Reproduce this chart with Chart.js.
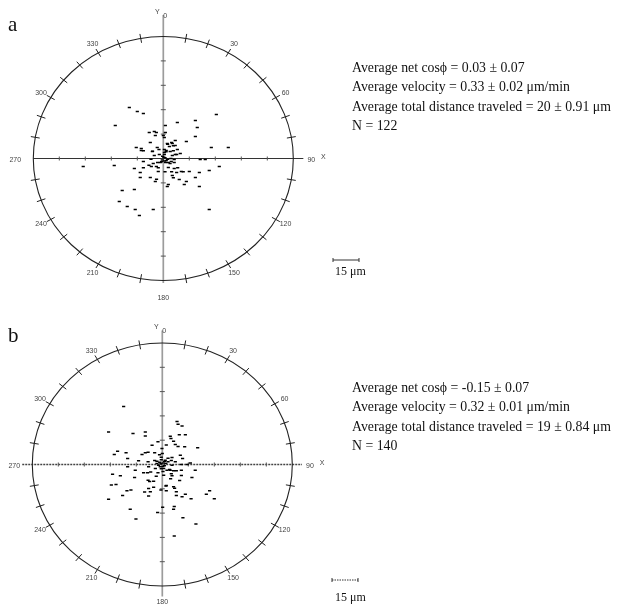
<!DOCTYPE html>
<html>
<head>
<meta charset="utf-8">
<script src="https://cdn.jsdelivr.net/npm/chart.js@4/dist/chart.umd.min.js"></script>
<style>
  body { margin: 0; width: 622px; height: 609px; background: #fff; overflow: hidden; position: relative; font-family: "Liberation Serif", "Times New Roman", serif; color: #111; }
  canvas { position: absolute; left: 0; }
  .t { position: absolute; white-space: nowrap; }
  .panel { font-size: 21px; line-height: 24px; }
  .stats { font-size: 13.8px; line-height: 19.3px; }
  .bar { font-size: 12px; line-height: 14px; }
</style>
</head>
<body>
<canvas id="plotA" width="622" height="305" style="top:0"></canvas>
<canvas id="plotB" width="622" height="304" style="top:305px"></canvas>

<div class="t panel" style="left:8px;top:12px">a</div>
<div class="t panel" style="left:8px;top:323px">b</div>

<div class="t stats" style="left:352px;top:58px">
  Average net cosϕ = 0.03 ± 0.07<br>
  Average velocity = 0.33 ± 0.02 μm/min<br>
  Average total distance traveled = 20 ± 0.91 μm<br>
  N = 122
</div>
<div class="t stats" style="left:352px;top:378px">
  Average net cosϕ = -0.15 ± 0.07<br>
  Average velocity = 0.32 ± 0.01 μm/min<br>
  Average total distance traveled = 19 ± 0.84 μm<br>
  N = 140
</div>
<div class="t bar" style="left:335px;top:264px">15 μm</div>
<div class="t bar" style="left:335px;top:590px">15 μm</div>

<script>
// Cell end points (µm) relative to the starting point, panel a
const cellsAx = [-19.6,-15.0,-11.5,-27.7,8.1,18.5,30.6,19.6,18.5,1.2,-8.1,-4.0,1.2,-4.6,0.0,6.9,13.3,-7.5,2.3,5.2,
  6.9,3.5,-3.5,8.1,-12.7,-15.6,-12.7,1.7,4.0,-6.3,0.6,9.8,6.9,-2.3,5.2,-5.2,27.7,37.5,1.7,4.6,
  -1.7,2.9,-5.8,-11.5,-28.3,-16.7,-13.3,-6.9,-4.0,2.9,6.3,10.4,15.0,20.8,26.5,32.3,5.2,-2.9,-13.3,-7.5,
  -4.6,9.2,13.3,18.5,20.8,12.1,2.3,-23.7,-16.7,-25.4,-20.8,-16.2,-5.8,-13.8,26.5,-46.2,21.3,24.2,
  -5.2,0.6,4.8,2.5,5.8,-11.5,-6.2,-2.5,0.6,1.6,5.8,7.7,0.6,-0.4,-7.1,2.5,4.4,6.3,-1.0,-3.3,
  -8.3,1.3,3.9,6.3,-11.5,-2.9,8.3,1.0,4.8,7.7,11.5,-3.9,5.8,2.9,0.3,1.0,-0.6,0.8];
const cellsAy = [31.4,28.9,27.7,20.3,22.1,23.4,27.1,19.1,13.5,20.3,16.0,16.0,16.0,14.1,14.1,11.1,10.5,9.8,9.2,9.2,
  8.0,7.4,6.8,5.5,6.1,6.8,4.9,4.9,4.3,4.3,3.7,3.1,2.5,2.5,1.8,1.8,6.8,6.8,-1.2,-1.8,
  -2.5,-2.5,-3.1,-1.8,-4.3,-6.1,-8.6,-4.9,-4.9,-5.5,-6.1,-8.0,-8.0,-8.6,-7.4,-4.9,-10.5,-8.0,-11.7,-11.7,
  -14.1,-12.9,-14.1,-11.7,-17.2,-16.0,-17.2,-19.7,-19.1,-26.4,-29.5,-31.4,-31.4,-35.0,-31.4,-4.9,-0.6,-0.6,
  16.6,12.9,9.8,8.8,7.8,4.7,4.5,5.5,5.5,4.1,4.7,2.5,2.5,1.4,-0.4,-0.4,0.0,-0.6,-2.0,-2.5,
  -4.1,-2.5,-3.1,-2.5,-5.7,-5.7,-5.7,-8.2,-8.2,-8.6,-8.2,-12.7,-11.9,-16.0,0.8,0.5,-0.9,-1.5];

// Cell end points (µm), panel b
const cellsBx = [-22.3,-31.0,-16.9,-9.8,-9.8,8.5,9.1,11.4,4.6,5.0,9.8,13.3,6.5,7.5,12.9,20.4,-5.9,-2.5,-0.2,0.0,
  -4.4,-9.8,-11.7,-20.9,-25.8,-27.7,-20.0,-13.7,-8.2,-3.1,-3.1,1.7,3.3,5.6,7.5,10.4,11.7,16.2,11.0,5.6,
  -1.2,0.8,2.7,-4.0,-7.9,-15.6,-20.0,-28.7,-24.2,-16.0,-10.8,-8.5,-2.5,0.8,4.6,6.5,8.1,11.0,19.0,11.0,
  5.6,17.1,-8.2,-5.0,10.0,-29.4,-26.7,-20.4,-18.1,-7.9,-5.0,-6.9,-0.8,2.1,2.3,8.1,8.1,11.4,13.3,16.6,
  27.3,25.4,30.0,-22.9,-31.0,-7.9,-18.5,-15.2,-2.7,0.2,6.9,6.5,11.9,19.4,6.9,6.5,
  2.3,9.1,-8.2,-1.6,-0.6,3.3,-4.4,1.3,5.2,14.4,-0.6,0.4,4.2,-6.7,5.2,-3.5,4.8,-7.3,2.3,7.1,-10.2,
  0.5,-0.8,1.2,-1.5,2.0,-2.2,0.3,-0.6];
const cellsBy = [35.8,20.1,19.1,20.1,17.6,26.6,24.8,23.8,17.4,16.0,18.4,18.4,14.3,12.3,10.9,10.3,11.9,14.0,9.8,6.8,
  7.2,7.2,6.1,7.2,8.2,6.1,3.7,2.3,1.7,2.0,0.6,2.6,1.7,4.3,1.7,5.7,3.7,1.0,0.0,-0.4,
  -1.4,-2.5,-3.5,-2.5,-1.4,-3.5,-1.4,-6.0,-6.9,-8.0,-5.1,-5.1,-5.1,-6.6,-3.5,-3.9,-3.9,-3.5,-3.5,-6.8,
  -6.9,-8.0,-9.7,-10.3,-9.8,-12.7,-12.3,-16.2,-15.8,-14.8,-14.1,-16.8,-15.8,-13.3,-16.2,-16.8,-19.2,-19.9,-18.4,-21.1,
  -16.2,-18.3,-21.1,-19.2,-21.5,-19.5,-27.7,-33.6,-29.7,-26.4,-26.0,-27.7,-32.8,-36.7,-44.1,-13.7,
  12.1,11.1,7.6,6.0,4.5,3.9,2.5,1.8,2.5,0.0,-2.6,-4.3,-3.1,-4.7,-5.7,-7.2,-8.8,-10.5,-12.9,-14.6,-17.0,
  1.0,0.4,-0.8,1.4,0.6,-0.5,-1.2,2.9];

// Axis layout (µm): ring radius, crosshair tick spacing, labelled bearings
const ringRadius = 75;
const axisTicks = [-60, -45, -30, -15, 15, 30, 45, 60];
const bearingLabels = [30, 60, 120, 150, 210, 240, 300, 330];
const scaleBarLength = 15;

const polarFrame = {
  id: 'polarFrame',
  beforeDatasetsDraw(chart, args, o) {
    const { ctx } = chart;
    const xs = chart.scales.x, ys = chart.scales.y;
    const px = v => xs.getPixelForValue(v);
    const py = v => ys.getPixelForValue(v);
    const cx = px(0), cy = py(0);
    const seg = (x1, y1, x2, y2) => { ctx.beginPath(); ctx.moveTo(x1, y1); ctx.lineTo(x2, y2); ctx.stroke(); };
    ctx.save();

    // vertical (Y) axis
    ctx.strokeStyle = '#9c9c9c';
    ctx.lineWidth = 1.7;
    seg(cx, py(o.yTop), cx, py(-o.yBottom));
    // horizontal (X) axis
    ctx.strokeStyle = o.hColor;
    ctx.lineWidth = o.hWidth;
    ctx.setLineDash(o.hDash);
    seg(px(-o.xLeft), cy, px(o.xRight), cy);
    ctx.setLineDash([]);

    // crosshair ticks
    ctx.strokeStyle = '#555';
    ctx.lineWidth = 1;
    axisTicks.forEach(t => {
      seg(px(t), cy - 2, px(t), cy + 2);
      seg(cx - 2.5, py(t), cx + 2.5, py(t));
    });

    // ring
    const rx = px(ringRadius) - cx, ry = cy - py(ringRadius);
    ctx.strokeStyle = '#222';
    ctx.lineWidth = 1.1;
    ctx.beginPath();
    ctx.ellipse(cx, cy, rx, ry, 0, 0, Math.PI * 2);
    ctx.stroke();

    // bearing ticks every 10°
    ctx.lineWidth = 1;
    for (let d = 10; d < 360; d += 10) {
      if (d % 90 === 0) continue;
      const a = d * Math.PI / 180;
      const x0 = px(ringRadius * Math.sin(a)), y0 = py(ringRadius * Math.cos(a));
      let ux = x0 - cx, uy = y0 - cy;
      const n = Math.hypot(ux, uy); ux /= n; uy /= n;
      seg(x0 - ux * 4.5, y0 - uy * 4.5, x0 + ux * 4.5, y0 + uy * 4.5);
    }

    // bearing labels
    ctx.fillStyle = '#444';
    ctx.font = '7px "Liberation Sans", Arial, sans-serif';
    ctx.textAlign = 'center';
    ctx.textBaseline = 'middle';
    bearingLabels.forEach(d => {
      const a = d * Math.PI / 180;
      const x0 = px(ringRadius * Math.sin(a)), y0 = py(ringRadius * Math.cos(a));
      let ux = x0 - cx, uy = y0 - cy;
      const n = Math.hypot(ux, uy); ux /= n; uy /= n;
      ctx.fillText(String(d), x0 + ux * 11, y0 + uy * 10);
    });
    ctx.fillText('270', px(-ringRadius) - 18, cy + 1.5);
    ctx.fillText('90', px(o.xRight) + 8, cy + 2);
    ctx.fillText('180', cx, py(-o.yBottom) + o.bottomLabelGap);
    ctx.fillText('0', cx + 2, py(o.yTop) + 1);
    ctx.fillText('X', px(o.xRight) + 20, cy - 1);
    ctx.fillText('Y', cx - 6, py(o.yTop) - 3);

    // scale bar
    const len = px(scaleBarLength) - px(0);
    ctx.strokeStyle = '#333';
    ctx.lineWidth = 1;
    ctx.setLineDash(o.barDash);
    seg(o.barX, o.barY, o.barX + len, o.barY);
    ctx.setLineDash([]);
    seg(o.barX, o.barY - 2, o.barX, o.barY + 2);
    seg(o.barX + len, o.barY - 2, o.barX + len, o.barY + 2);
    ctx.restore();
  }
};

function makePlot(id, xsArr, ysArr, padding, frameOpts) {
  const pts = xsArr.map((x, i) => ({ x, y: ysArr[i] }));
  return new Chart(document.getElementById(id), {
    type: 'scatter',
    data: {
      datasets: [{
        data: pts,
        pointStyle: 'line',
        radius: 1.6,
        borderWidth: 1.5,
        borderColor: '#000',
        backgroundColor: '#000'
      }]
    },
    options: {
      responsive: false,
      animation: false,
      events: [],
      layout: { padding },
      scales: {
        x: { type: 'linear', min: -ringRadius, max: ringRadius, display: false },
        y: { type: 'linear', min: -ringRadius, max: ringRadius, display: false }
      },
      plugins: { legend: { display: false }, tooltip: { enabled: false }, polarFrame: frameOpts }
    },
    plugins: [polarFrame]
  });
}

makePlot('plotA', cellsAx, cellsAy,
  { left: 33.3, right: 328.7, top: 36.5, bottom: 24.5 },
  { xLeft: 75, xRight: 80.8, yTop: 88.2, yBottom: 76.5, hColor: '#333', hWidth: 1, hDash: [],
    bottomLabelGap: 15, barX: 333, barY: 260, barDash: [] });

makePlot('plotB', cellsBx, cellsBy,
  { left: 32.3, right: 329.7, top: 38, bottom: 23 },
  { xLeft: 80.8, xRight: 80.6, yTop: 82.7, yBottom: 81.5, hColor: '#444', hWidth: 1.3, hDash: [2, 1],
    bottomLabelGap: 6, barX: 332, barY: 275, barDash: [1.5, 1] });
</script>
</body>
</html>
